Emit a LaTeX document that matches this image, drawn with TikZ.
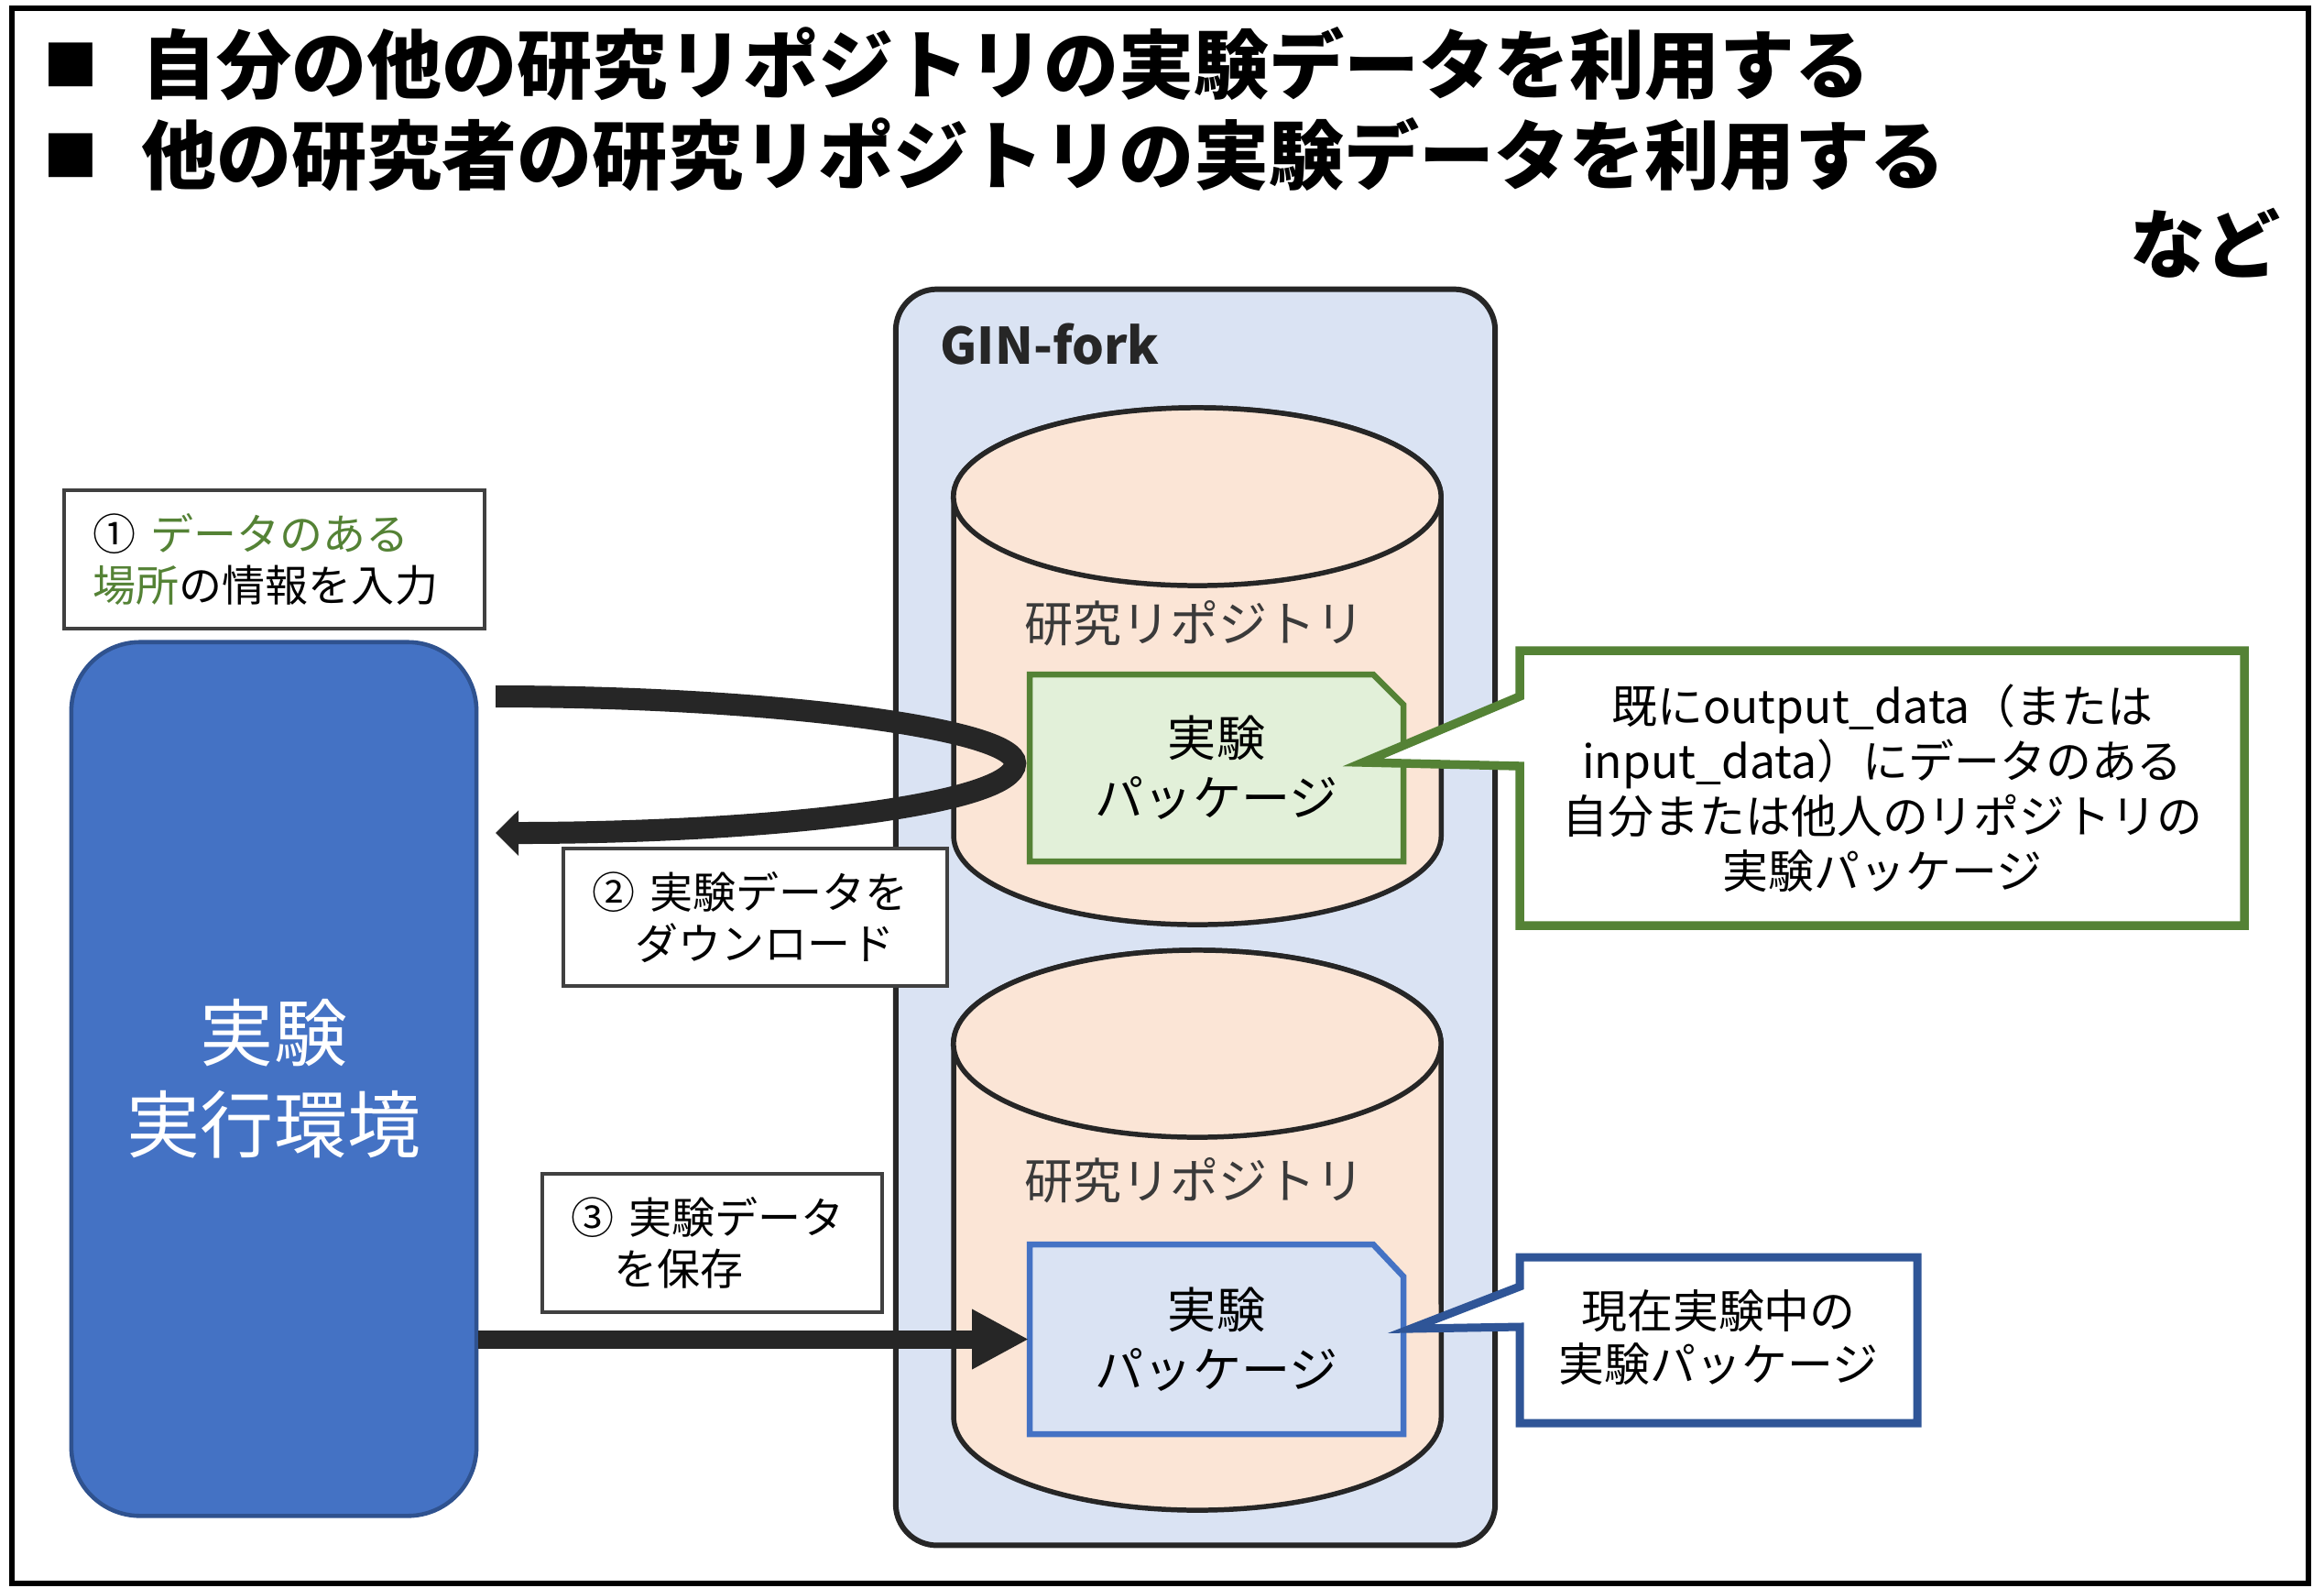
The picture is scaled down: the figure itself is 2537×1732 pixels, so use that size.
\documentclass[tikz,border=0pt]{standalone}
\usepackage{fontspec}
\setmainfont{Noto Sans CJK JP}
\usetikzlibrary{arrows.meta}
\definecolor{dk}{HTML}{262626}
\definecolor{ginfill}{HTML}{DAE3F3}
\definecolor{cylfill}{HTML}{FBE5D6}
\definecolor{pkggreen}{HTML}{548235}
\definecolor{pkggreenfill}{HTML}{E2F0D9}
\definecolor{pkgblue}{HTML}{4472C4}
\definecolor{envborder}{HTML}{2F528F}
\definecolor{callblue}{HTML}{2F5597}
\definecolor{boxgray}{HTML}{404040}
\definecolor{txtgray}{HTML}{3A3A3A}
\newcommand\myfs[2]{\fontsize{#1pt}{#2pt}\selectfont}
\begin{document}
\begin{tikzpicture}[x=0.01cm, y=-0.01cm,
  titlefont/.style={inner sep=0pt, font=\bfseries\myfs{23.33}{28}},
  bulletstyle/.style={inner sep=0pt, font=\myfs{17}{20}},
  tbox/.style={draw=boxgray, line width=1pt, fill=white, align=left, inner ysep=0pt, inner xsep=0.32cm, font=\myfs{13.37}{15.93}},
  cylbody/.style={fill=cylfill, draw=dk, line width=1.56pt},
  cyllbl/.style={inner sep=0pt, text=txtgray, font=\myfs{15.1}{18}},
  pkgtext/.style={inner sep=0pt, align=center, minimum width=4.08cm, minimum height=2.04cm, font=\myfs{15.1}{18.5}},
  calltext/.style={inner sep=0pt, align=center, font=\myfs{14.2}{17.07}},
  bigarrow/.style={draw=dk, line width=6.83pt},
]
\useasboundingbox (0,0) rectangle (2537,1732);
\fill[white] (0,0) rectangle (2537,1732);
% outer frame
\draw[line width=1.85pt] (13,9) rectangle (2520,1728);

% titles
\node[bulletstyle] (bul1) at (77,71) {■};
\node[bulletstyle] (bul2) at (77,170) {■};
\node[titlefont, anchor=base west] (title1) at (154,101) {自分の他の研究リポジトリの実験データを利用する};
\node[titlefont, anchor=base west] (title2) at (154,200) {他の研究者の研究リポジトリの実験データを利用する};
\node[titlefont, anchor=base east] (etc) at (2490,297) {など};

% GIN-fork container
\node[fill=ginfill, draw=dk, line width=1.7pt, rounded corners=0.45cm, minimum width=6.54cm, minimum height=13.70cm, inner sep=0pt] (gin) at (1305,1001) {};
\node[anchor=base west, inner sep=0pt, text=dk, font=\bfseries\myfs{15.6}{18}] (ginlbl) at (1026,397) {GIN-fork};

% cylinder 1
\draw[cylbody] (1041,542) -- (1041,912) arc[start angle=180, end angle=360, x radius=2.66cm, y radius=0.97cm] -- (1573,542) arc[start angle=0, end angle=180, x radius=2.66cm, y radius=0.97cm] -- cycle;
\draw[cylbody] (1307,542) ellipse[x radius=2.66cm, y radius=0.97cm];
\node[cyllbl] (repo1) at (1304,680) {研究リポジトリ};

% cylinder 2
\draw[cylbody] (1041,1139) -- (1041,1546) arc[start angle=180, end angle=360, x radius=2.66cm, y radius=1.02cm] -- (1573,1139) arc[start angle=0, end angle=180, x radius=2.66cm, y radius=1.02cm] -- cycle;
\draw[cylbody] (1307,1139) ellipse[x radius=2.66cm, y radius=1.02cm];
\node[cyllbl] (repo2) at (1304,1288) {研究リポジトリ};

% package boxes
\draw[fill=pkggreenfill, draw=pkggreen, line width=1.85pt] (1124,736) -- (1499,736) -- (1532,769) -- (1532,940) -- (1124,940) -- cycle;
\node[pkgtext] (pkg1) at (1328,838) {実験\\パッケージ};
\draw[fill=ginfill, draw=pkgblue, line width=1.85pt] (1124,1358) -- (1499,1358) -- (1532,1393) -- (1532,1565) -- (1124,1565) -- cycle;
\node[pkgtext] (pkg2) at (1328,1461.5) {実験\\パッケージ};

% callouts
\draw[fill=white, draw=pkggreen, line width=2.7pt] (1659,710) -- (2450,710) -- (2450,1010) -- (1659,1010) -- (1659,836) -- (1488,832) -- (1659,760) -- cycle;
\node[calltext] (call1) at (2055,860) {既にoutput\_data（または\\input\_data）にデータのある\\自分または他人のリポジトリの\\実験パッケージ};
\draw[fill=white, draw=callblue, line width=2.56pt] (1659,1372) -- (2093,1372) -- (2093,1553) -- (1659,1553) -- (1659,1448) -- (1540,1450) -- (1659,1404) -- cycle;
\node[calltext, font=\myfs{14.2}{16.5}] (call2) at (1876,1460) {現在実験中の\\実験パッケージ};

% step boxes
\node[tbox, text width=3.95cm, minimum height=1.51cm] (step1) at (299.5,610.5) {① {\color{pkggreen}データのある}\\{\color{pkggreen}場所}の情報を入力};
\node[tbox, text width=3.55cm, minimum height=1.50cm] (step2) at (824.5,1001) {② 実験データを\\　ダウンロード};
\node[tbox, text width=3.07cm, minimum height=1.51cm] (step3) at (777.5,1356.5) {③ 実験データ\\　を保存};

% experiment environment
\node[fill=pkgblue, draw=envborder, line width=1.3pt, rounded corners=0.75cm, minimum width=4.42cm, minimum height=9.53cm, text=white, align=center, font=\myfs{22.76}{28.45}] (env) at (299,1177.5) {実験\\実行環境};

% loop arrow (1: input, 2: download)
\coordinate (lstart) at (541,760);
\coordinate (lend) at (541,909);
\draw[bigarrow, -{Triangle[length=0.25cm, width=0.48cm]}] (lstart) .. controls +(300,0) and +(0,-38) .. ([xshift=-0.15cm, yshift=0.05cm]pkg1.west) .. controls +(0,45) and +(300,0) .. (lend);

% arrow 3: save
\draw[draw=dk, line width=5.69pt, -{Triangle[length=0.62cm, width=0.61cm]}] (env.east |- pkg2.west) -- (pkg2.west);
\end{tikzpicture}
\end{document}
